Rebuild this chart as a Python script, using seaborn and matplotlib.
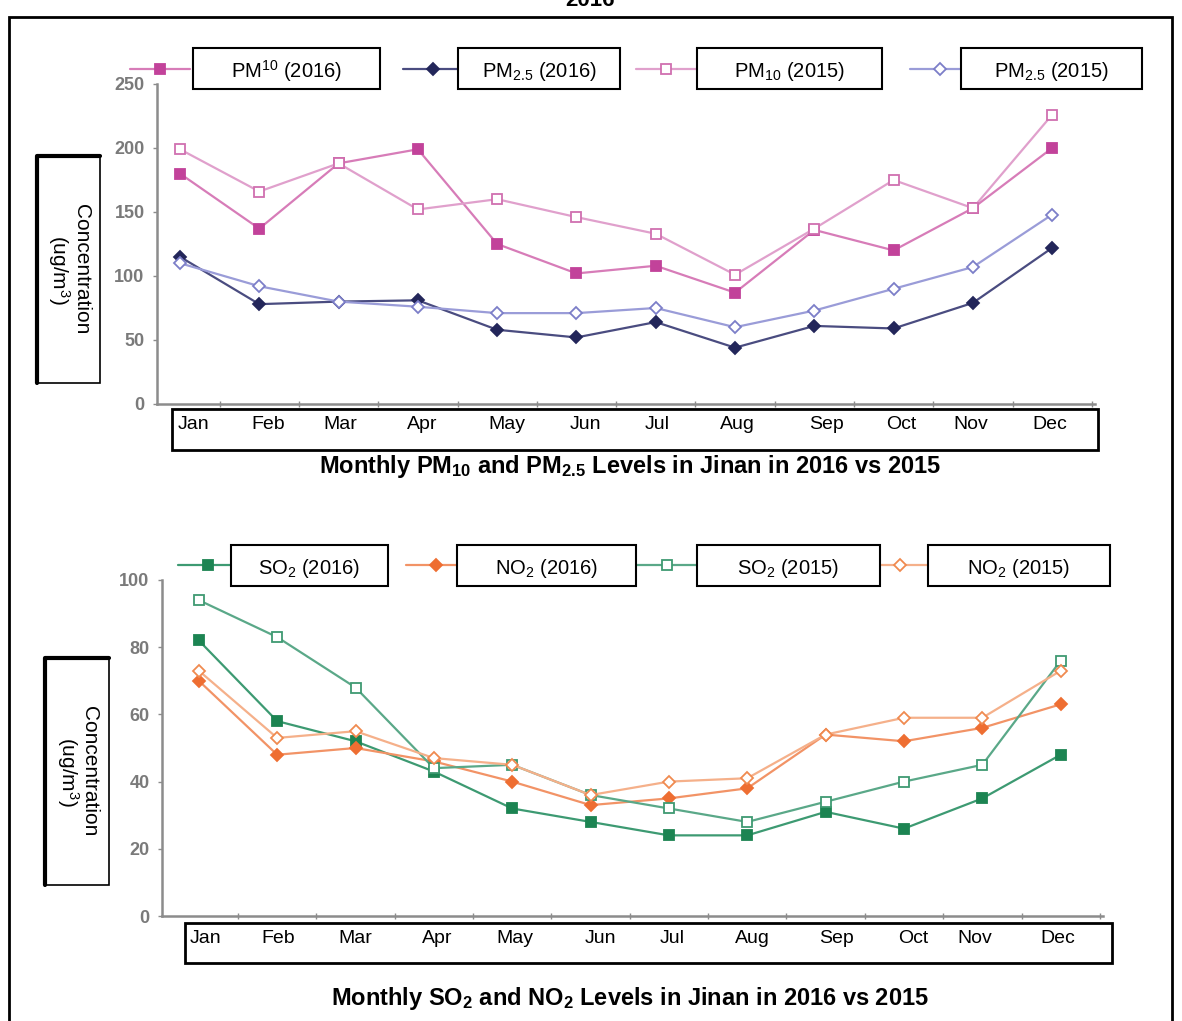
import numpy as np
import pandas as pd
import matplotlib
matplotlib.use("Agg")
import matplotlib.pyplot as plt
import seaborn as sns
from matplotlib.patches import Rectangle
from matplotlib.lines import Line2D

# data
months = ["Jan", "Feb", "Mar", "Apr", "May", "Jun",
          "Jul", "Aug", "Sep", "Oct", "Nov", "Dec"]
pm10_2016 = [180, 137, 188, 199, 125, 102, 108, 87, 136, 120, 153, 200]
pm10_2015 = [199, 166, 188, 152, 160, 146, 133, 101, 137, 175, 153, 226]
pm25_2016 = [115, 78, 80, 81, 58, 52, 64, 44, 61, 59, 79, 122]
pm25_2015 = [110, 92, 80, 76, 71, 71, 75, 60, 73, 90, 107, 148]
so2_2016 = [82, 58, 52, 43, 32, 28, 24, 24, 31, 26, 35, 48]
so2_2015 = [94, 83, 68, 44, 45, 36, 32, 28, 34, 40, 45, 76]
no2_2016 = [70, 48, 50, 46, 40, 33, 35, 38, 54, 52, 56, 63]
no2_2015 = [73, 53, 55, 47, 45, 36, 40, 41, 54, 59, 59, 73]

top_labels = ["PM$^{10}$ (2016)", "PM$_{2.5}$ (2016)", "PM$_{10}$ (2015)", "PM$_{2.5}$ (2015)"]
bot_labels = ["SO$_2$ (2016)", "NO$_2$ (2016)", "SO$_2$ (2015)", "NO$_2$ (2015)"]

sns.set_theme(style="white")
plt.rcParams["font.family"] = ["Liberation Sans", "DejaVu Sans"]
plt.rcParams["text.color"] = "black"
plt.rcParams["mathtext.fontset"] = "custom"
plt.rcParams["mathtext.rm"] = "Liberation Sans"
plt.rcParams["mathtext.it"] = "Liberation Sans:italic"
plt.rcParams["mathtext.bf"] = "Liberation Sans:bold"

W, H = 1182, 1021
fig = plt.figure(figsize=(W / 100, H / 100), dpi=100)
fig.patch.set_facecolor("white")


def fx(x):
    return x / W


def fy(y):
    return 1 - y / H


def axes_px(left, right, top, bottom):
    return fig.add_axes([fx(left), fy(bottom), fx(right - left), (bottom - top) / H])


df_top = pd.DataFrame({"month": months, "pm10_2016": pm10_2016, "pm25_2016": pm25_2016,
                       "pm10_2015": pm10_2015, "pm25_2015": pm25_2015})
df_bot = pd.DataFrame({"month": months, "so2_2016": so2_2016, "no2_2016": no2_2016,
                       "so2_2015": so2_2015, "no2_2015": no2_2015})

# series styles: (column, line colour, marker, edge colour, face colour)
top_styles = [
    ("pm10_2016", "#d77cb8", "s", "#c2429a", "#c2429a"),
    ("pm25_2016", "#4a4c80", "D", "#23265a", "#23265a"),
    ("pm10_2015", "#e0a0cc", "s", "#d070b0", "white"),
    ("pm25_2015", "#9a9cd8", "D", "#7c7ec8", "white"),
]
bot_styles = [
    ("so2_2016", "#3d9a72", "s", "#1c8452", "#1c8452"),
    ("no2_2016", "#f29366", "D", "#ee6e32", "#ee6e32"),
    ("so2_2015", "#5aa888", "s", "#3f9a72", "white"),
    ("no2_2015", "#f5b08a", "D", "#f08a50", "white"),
]


def draw_panel(ax, df, styles, ymax, yticks, xlim):
    for col, lc, mk, ec, fc in styles:
        ms = 7 if mk == "s" else 6
        sns.lineplot(data=df, x="month", y=col, ax=ax, color=lc, linewidth=1.6,
                     marker=mk, markersize=ms, markeredgecolor=ec,
                     markerfacecolor=fc, markeredgewidth=1.3)
    ax.set_ylim(0, ymax)
    ax.set_xlim(*xlim)
    ax.set_xlabel("")
    ax.set_ylabel("")
    for s in ["top", "right"]:
        ax.spines[s].set_visible(False)
    for s in ["left", "bottom"]:
        ax.spines[s].set_color("#8c8c8c")
        ax.spines[s].set_linewidth(1.8)
    ax.set_yticks(yticks)
    ax.set_yticklabels([str(v) for v in yticks], fontsize=13, color="#7a7a7a",
                       fontweight="bold")
    ax.tick_params(axis="y", length=3, color="#8c8c8c", width=1, left=True, pad=6)
    ax.set_xticks(range(12))
    ax.set_xticklabels([])
    ax.set_xticks(np.arange(0.5, 11.6, 1), minor=True)
    ax.tick_params(axis="x", which="major", length=0)
    ax.tick_params(axis="x", which="minor", length=4, color="#8c8c8c",
                   direction="inout", bottom=True)
    ax.patch.set_alpha(0)


ax1 = axes_px(157, 1095, 84, 404)
draw_panel(ax1, df_top, top_styles, 250, [0, 50, 100, 150, 200, 250], (-0.29, 11.54))

ax2 = axes_px(162, 1103, 580, 916)
draw_panel(ax2, df_bot, bot_styles, 100, [0, 20, 40, 60, 80, 100], (-0.47, 11.54))


def box(x0, x1, y0, y1, lw=1.5, fill=False, z=2):
    r = Rectangle((fx(x0), fy(y1)), fx(x1 - x0), (y1 - y0) / H, transform=fig.transFigure,
                  facecolor="white", fill=fill, edgecolor="black", linewidth=lw, zorder=z)
    fig.add_artist(r)


def legend_row(styles, labels, markers_x, boxes, yc, y0, y1):
    for (col, lc, mk, ec, fc), mx, (bx0, bx1), lab in zip(styles, markers_x, boxes, labels):
        ms = 7 if mk == "s" else 6
        fig.add_artist(Line2D([fx(mx - 30), fx(mx + 30)], [fy(yc), fy(yc)],
                              transform=fig.transFigure, color=lc, linewidth=1.6, zorder=1))
        fig.add_artist(Line2D([fx(mx)], [fy(yc)], transform=fig.transFigure, marker=mk,
                              markersize=ms, markeredgecolor=ec, markerfacecolor=fc,
                              markeredgewidth=1.3, zorder=1))
        box(bx0, bx1, y0, y1, lw=1.5, fill=True, z=2)
        fig.text(fx((bx0 + bx1) / 2), fy((y0 + y1) / 2 + 3), lab, ha="center", va="center",
                 fontsize=14.5, zorder=3)


legend_row(top_styles, top_labels, [160, 433, 666, 940],
           [(193, 380), (458, 620), (697, 882), (961, 1142)], 69, 48, 89)
legend_row(bot_styles, bot_labels, [208, 436, 667, 900],
           [(231, 388), (457, 636), (697, 880), (928, 1110)], 565, 545, 586)

# month labels set inside their boxes (positions as laid out in the picture)
top_month_x = [193, 268, 340, 422, 507, 585, 657, 737, 827, 901, 971, 1050]
bot_month_x = [205, 278, 355, 437, 515, 600, 672, 752, 837, 913, 975, 1058]
for m, x in zip(months, top_month_x):
    fig.text(fx(x), fy(424), m, ha="center", va="center", fontsize=14)
for m, x in zip(months, bot_month_x):
    fig.text(fx(x), fy(938), m, ha="center", va="center", fontsize=14)

box(172, 1098, 409, 450, lw=2)
box(185, 1112, 923, 963, lw=2)


# y label boxes with heavier top/left edge
def ylabel_box(x0, x1, y0, y1):
    box(x0, x1, y0, y1, lw=1.2)
    fig.add_artist(Line2D([fx(x0), fx(x0), fx(x1)], [fy(y1), fy(y0), fy(y0)],
                          transform=fig.transFigure, color="black", linewidth=3, zorder=2))
    fig.text(fx((x0 + x1) / 2), fy((y0 + y1) / 2), "Concentration\n(ug/m$^3$)",
             rotation=270, ha="center", va="center", fontsize=15,
             multialignment="center", linespacing=1.0)


ylabel_box(37, 100, 156, 383)
ylabel_box(45, 109, 658, 885)

# panel titles
fig.text(fx(630), fy(466), r"Monthly PM$_{\mathbf{10}}$ and PM$_{\mathbf{2.5}}$ Levels in Jinan in 2016 vs 2015",
         ha="center", va="center", fontsize=17, fontweight="bold")
fig.text(fx(630), fy(998), r"Monthly SO$_{\mathbf{2}}$ and NO$_{\mathbf{2}}$ Levels in Jinan in 2016 vs 2015",
         ha="center", va="center", fontsize=17, fontweight="bold")

# clipped heading above the frame
fig.text(fx(590), fy(6), "2016", ha="center", va="baseline", fontsize=16, fontweight="bold")

# outer frame
fig.add_artist(Rectangle((fx(9), -0.05), fx(1172 - 9), fy(17) + 0.05, transform=fig.transFigure,
                         fill=False, edgecolor="black", linewidth=2, zorder=4))

fig.savefig("out.png", dpi=100, facecolor="white")
